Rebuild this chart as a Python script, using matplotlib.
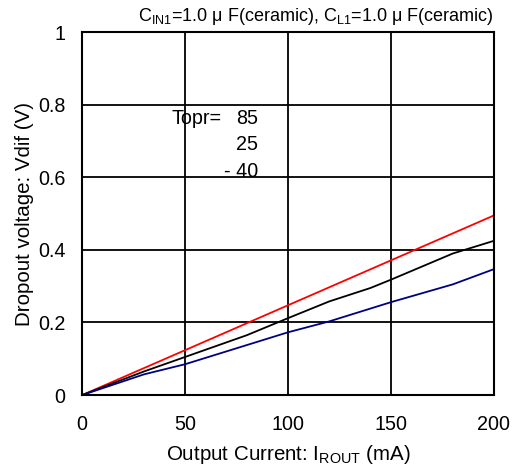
import numpy as np
import matplotlib
matplotlib.use("Agg")
import matplotlib.pyplot as plt

plt.rcParams['font.family'] = ['Liberation Sans', 'DejaVu Sans']
plt.rcParams['mathtext.fontset'] = 'custom'
plt.rcParams['mathtext.rm'] = 'Liberation Sans'
plt.rcParams['mathtext.it'] = 'Liberation Sans'

# dropout voltage vs output current, per temperature
i_85 = [0, 200]
v_85 = [0, 0.495]

i_25 = [0, 30, 50, 80, 100, 120, 140, 150, 180, 200]
v_25 = [0, 0.065, 0.105, 0.165, 0.212, 0.258, 0.295, 0.318, 0.39, 0.425]

i_m40 = [0, 30, 50, 100, 120, 150, 180, 200]
v_m40 = [0, 0.057, 0.085, 0.173, 0.203, 0.256, 0.305, 0.347]

x_ticks = [0, 50, 100, 150, 200]
y_ticks = [0, 0.2, 0.4, 0.6, 0.8, 1]
y_labels = ['0', '0.2', '0.4', '0.6', '0.8', '1']

fig = plt.figure(figsize=(5.2, 4.72), dpi=100)
ax = fig.add_axes([0.158, 0.163, 0.792, 0.769])

ax.plot(i_85, v_85, color='#ff0000', lw=1.3)
ax.plot(i_25, v_25, color='black', lw=1.3)
ax.plot(i_m40, v_m40, color='#000080', lw=1.3)

ax.set_xlim(0, 200)
ax.set_ylim(0, 1)
ax.set_xticks(x_ticks)
ax.set_yticks(y_ticks)
ax.set_yticklabels(y_labels)
ax.tick_params(length=0, labelsize=14.2)
ax.tick_params(axis='x', pad=14)
ax.tick_params(axis='y', pad=12)
ax.grid(True, color='black', lw=1.3)
for s in ax.spines.values():
    s.set_linewidth(1.5)

ax.set_xlabel(r'Output Current: I$_{\mathrm{ROUT}}$ (mA)', fontsize=14.8, labelpad=7)
ax.set_ylabel('Dropout voltage: Vdif (V)', fontsize=14.8, labelpad=3)

ax.text(1.0, 1.015, r'C$_{\mathrm{IN1}}$=1.0 μ F(ceramic), C$_{\mathrm{L1}}$=1.0 μ F(ceramic)',
        transform=ax.transAxes, ha='right', va='bottom', fontsize=13)

ax.text(43.5, 0.763, 'Topr=', fontsize=14.2, ha='left', va='center')
ax.text(85.5, 0.763, '85', fontsize=14.2, ha='right', va='center')
ax.text(85.5, 0.689, '25', fontsize=14.2, ha='right', va='center')
ax.text(85.5, 0.617, '- 40', fontsize=14.2, ha='right', va='center')

fig.savefig('out.png', dpi=100)
